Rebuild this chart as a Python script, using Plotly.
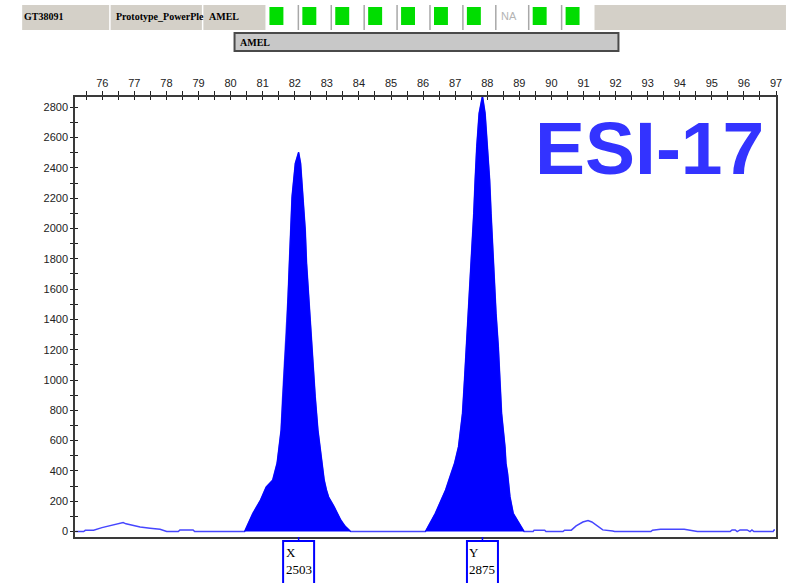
import plotly.graph_objects as go

# ---- electropherogram trace (size in bp, signal in RFU) ----
size_bp = [
    75.16, 75.42, 75.47, 75.73, 75.99, 76.25, 76.56, 76.65, 76.74, 76.87, 77.18, 77.49,
    77.80, 78.01, 78.37, 78.42, 78.83, 78.88, 80.38,
    # X peak
    80.435, 80.693, 80.932, 81.109, 81.313, 81.450, 81.574, 81.623, 81.686, 81.748,
    81.791, 81.831, 81.872, 81.915, 82.017,
    82.182, 82.265, 82.327, 82.368, 82.430, 82.492, 82.554, 82.638, 82.722, 82.846,
    82.917, 82.988, 83.056, 83.227, 83.435, 83.568, 83.745,
    # Y peak
    86.071, 86.381, 86.608, 86.701, 86.856, 86.980, 87.104, 87.228, 87.290, 87.352,
    87.414, 87.476, 87.538, 87.579, 87.622, 87.672, 87.746,
    87.933, 88.013, 88.075, 88.119, 88.168, 88.221, 88.274, 88.345, 88.398, 88.447,
    88.553, 88.584, 88.633, 88.708, 88.810, 88.965, 89.151,
    # baseline to the right
    89.43, 89.46, 89.79, 89.83, 90.36, 90.41, 90.62, 90.77, 90.98, 91.14, 91.26, 91.45,
    91.60, 91.91, 91.97, 93.10, 93.15, 93.40, 94.14, 94.55, 95.57, 95.63, 95.73, 95.79,
    95.88, 96.10, 96.19, 96.25, 96.31, 96.91, 96.94, 96.97,
]
rfu = [
    0, 0, 8, 9, 26, 37, 53, 59, 51, 44, 30, 22,
    15, 0, 0, 11, 11, 0, 0,
    0, 120, 208, 294, 340, 452, 670, 890, 1112, 1330,
    1550, 1770, 1990, 2210, 2430,
    2430, 2210, 1990, 1770, 1550, 1330, 1112, 890, 670, 452,
    340, 274, 228, 164, 76, 36, 0,
    0, 120, 230, 274, 373, 450, 560, 780, 1000, 1220,
    1440, 1660, 1880, 2100, 2320, 2540, 2760,
    2760, 2540, 2320, 2100, 1880, 1660, 1440, 1220, 1000, 780,
    560, 450, 384, 230, 120, 63, 0,
    0, 9, 9, 0, 0, 9, 9, 37, 63, 73, 63, 37,
    11, 4, 0, 0, 9, 15, 15, 0, 0, 11, 11, 0,
    11, 11, 0, 11, 0, 0, 11, 11,
]

# ---- called alleles ----
allele_names = ["X", "Y"]
allele_sizes = [82.12, 87.85]
allele_heights = [2503, 2875]
called_bins = [(80.43, 83.75), (86.07, 89.16)]

# ---- header ----
sample_name = "GT38091"
panel_name = "Prototype_PowerPle"
marker_name = "AMEL"
cell_status = ["ok", "ok", "ok", "ok", "ok", "ok", "ok", "NA", "ok", "ok"]

# ---- axes ----
x_range = [75.15, 97.0]
y_range = [-36, 2868]

# merge allele apexes into the trace
pts = sorted(zip(size_bp + allele_sizes, rfu + allele_heights))
xs = [p[0] for p in pts]
ys = [p[1] for p in pts]

W, H = 794, 583
L, R, T, B = 75, 778, 97, 537


def px(x):
    return (x - L) / (R - L)


def py(y):
    return (B - y) / (B - T)


fig = go.Figure()

# full raw signal
fig.add_trace(go.Scatter(x=xs, y=ys, mode="lines",
                         line=dict(color="rgb(70,70,255)", width=1.5),
                         hoverinfo="skip", showlegend=False))

# filled called peaks
for lo, hi in called_bins:
    bx = [x for x in xs if lo <= x <= hi]
    by = [y for x, y in zip(xs, ys) if lo <= x <= hi]
    fig.add_trace(go.Scatter(x=bx, y=by, mode="lines", fill="tozeroy",
                             fillcolor="#0000ff", line=dict(color="#0000ff", width=1),
                             hoverinfo="skip", showlegend=False))

# overlay axes carry the inner half of each tick
fig.add_trace(go.Scatter(x=[None], y=[None], xaxis="x2", yaxis="y2",
                         showlegend=False, hoverinfo="skip"))

tick_font = dict(family="Liberation Sans Narrow, Liberation Sans, Arial", size=11, color="#222")

fig.update_layout(
    width=W, height=H,
    margin=dict(l=L, r=W - R, t=T, b=H - B),
    paper_bgcolor="white", plot_bgcolor="white",
    showlegend=False,
    xaxis=dict(range=x_range, side="top", tick0=76, dtick=1, showgrid=False, zeroline=False,
               ticks="outside", ticklen=4, tickcolor="#222", tickwidth=1,
               minor=dict(dtick=0.5, ticks="outside", ticklen=4, tickcolor="#222"),
               showline=True, mirror=True, linecolor="#3a3a3a", linewidth=1.5,
               tickfont=tick_font),
    yaxis=dict(range=y_range, tick0=0, dtick=200, showgrid=False, zeroline=False,
               ticks="outside", ticklen=3, tickcolor="#222", tickwidth=1,
               minor=dict(dtick=100, ticks="outside", ticklen=3, tickcolor="#222"),
               showline=True, mirror=True, linecolor="#3a3a3a", linewidth=1.5,
               tickfont=tick_font),
    xaxis2=dict(overlaying="x", matches="x", side="top", anchor="y2", tick0=76, dtick=1,
                showgrid=False, zeroline=False, showline=False, showticklabels=False,
                ticks="inside", ticklen=3, tickcolor="#222",
                minor=dict(dtick=0.5, ticks="inside", ticklen=3, tickcolor="#222")),
    yaxis2=dict(overlaying="y", matches="y", side="left", anchor="x2", tick0=0, dtick=200,
                showgrid=False, zeroline=False, showline=False, showticklabels=False,
                ticks="inside", ticklen=3, tickcolor="#222",
                minor=dict(dtick=100, ticks="inside", ticklen=3, tickcolor="#222")),
)

shapes = []
annots = []

# header strip
shapes.append(dict(type="rect", xref="paper", yref="paper", x0=px(22), x1=px(788),
                   y0=py(30), y1=py(5), fillcolor="#d4d0c8", line=dict(width=0), layer="above"))
for xd in (110, 203):
    shapes.append(dict(type="line", xref="paper", yref="paper", x0=px(xd), x1=px(xd),
                       y0=py(30), y1=py(5), line=dict(color="white", width=1.5), layer="above"))
cell_w = 33
cell_x0 = 266
shapes.append(dict(type="rect", xref="paper", yref="paper", x0=px(cell_x0),
                   x1=px(cell_x0 + cell_w * len(cell_status)), y0=py(30), y1=py(5),
                   fillcolor="white", line=dict(width=0), layer="above"))
for i, st in enumerate(cell_status):
    cx = cell_x0 + cell_w * i
    if i > 0:
        shapes.append(dict(type="line", xref="paper", yref="paper", x0=px(cx), x1=px(cx),
                           y0=py(30), y1=py(5), line=dict(color="#a8a8a8", width=1.5),
                           layer="above"))
    if st == "ok":
        shapes.append(dict(type="rect", xref="paper", yref="paper", x0=px(cx + 4),
                           x1=px(cx + 18), y0=py(25), y1=py(7), fillcolor="#00dd00",
                           line=dict(width=0), layer="above"))
    else:
        annots.append(dict(text=st, xref="paper", yref="paper", x=px(cx + 3), y=py(16),
                           xanchor="left", yanchor="middle", showarrow=False,
                           font=dict(family="Liberation Sans", size=11, color="#b4b4b4")))

hdr_font = dict(family="Liberation Serif, DejaVu Serif", size=10, color="black", weight="bold")
for txt, x0 in ((sample_name, 22), (panel_name, 114), (marker_name, 207)):
    annots.append(dict(text=txt, xref="paper", yref="paper", x=px(x0), y=py(16),
                       xanchor="left", yanchor="middle", showarrow=False, font=hdr_font))

# marker bin bar
shapes.append(dict(type="rect", xref="paper", yref="paper", x0=px(235), x1=px(620),
                   y0=py(51), y1=py(33), fillcolor="#c8c8c8",
                   line=dict(color="#4a4a4a", width=2), layer="above"))
annots.append(dict(text=marker_name, xref="paper", yref="paper", x=px(238), y=py(42),
                   xanchor="left", yanchor="middle", showarrow=False, font=hdr_font))

# big title
annots.append(dict(text="ESI-17", xref="paper", yref="paper", x=px(651), y=py(148),
                   xanchor="center", yanchor="middle", showarrow=False,
                   font=dict(family="Liberation Sans, Arial", size=75, color="#3333ff",
                             weight="bold")))

# allele call boxes below the axis
for name, s, h in zip(allele_names, allele_sizes, allele_heights):
    shapes.append(dict(type="line", xref="x", yref="paper", x0=s, x1=s,
                       y0=py(537), y1=py(541), line=dict(color="#0000ff", width=1.5)))
    shapes.append(dict(type="rect", xref="x", yref="paper", xsizemode="pixel", xanchor=s,
                       x0=-15.5, x1=15.5, y0=py(588), y1=py(541), fillcolor="white",
                       line=dict(color="#0000ff", width=2)))
    annots.append(dict(text=f"{name}<br>{h}", xref="x", yref="paper", x=s, y=py(543),
                       xanchor="center", yanchor="top", align="left", showarrow=False,
                       font=dict(family="Liberation Serif, DejaVu Serif", size=13,
                                 color="black")))

fig.update_layout(shapes=shapes, annotations=annots)

fig.write_html("out.html")
